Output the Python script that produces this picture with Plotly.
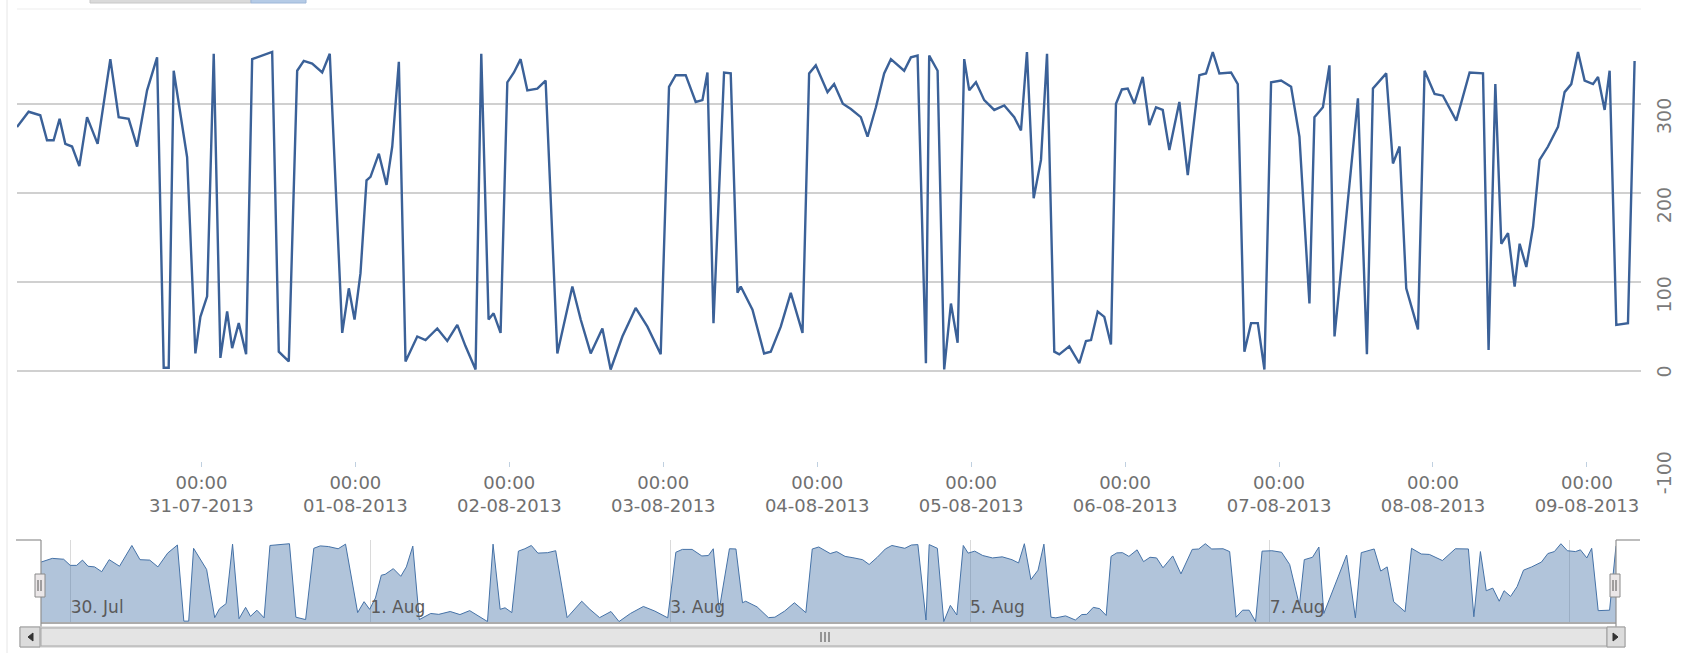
import pandas as pd
import plotly.graph_objects as go

# ---- data: hours since 2013-07-31 00:00 and the series values ----
hours = [
    -28.75, -26.94, -25.12, -24.07, -23.04, -22.11, -21.22, -20.17, -19.03, -17.83,
    -16.18, -14.2, -12.9, -11.34, -10.03, -8.47, -6.91, -5.88, -5.1, -4.32,
    -2.23, -0.94, -0.16, 0.89, 1.92, 2.96, 4.01, 4.79, 5.82, 6.97,
    7.91, 11.03, 12.06, 13.62, 14.93, 15.96, 17.27, 18.83, 20.01, 21.95,
    22.98, 23.87, 24.8, 25.74, 26.36, 27.66, 28.86, 29.75, 30.78, 31.82,
    33.65, 34.94, 36.77, 38.33, 39.89, 41.18, 42.74, 43.63, 44.77, 45.55,
    46.64, 47.69, 48.72, 49.76, 50.81, 52.37, 53.66, 55.49, 57.83, 59.13,
    60.69, 62.51, 63.8, 65.63, 67.7, 69.53, 71.6, 72.9, 73.94, 75.5,
    77.06, 78.11, 78.89, 79.83, 81.48, 82.52, 83.57, 84.08, 85.91, 87.72,
    88.76, 90.32, 91.88, 93.71, 94.74, 95.78, 97.61, 98.64, 100.0, 101.25,
    102.8, 103.85, 105.15, 106.44, 107.49, 109.56, 110.61, 111.65, 112.95, 113.46,
    114.77, 115.8, 116.85, 117.89, 118.92, 119.7, 120.75, 122.04, 123.6, 125.16,
    126.72, 127.77, 128.7, 129.75, 130.89, 131.83, 132.96, 133.74, 135.3, 136.86,
    137.9, 138.69, 139.73, 140.76, 141.8, 142.58, 143.5, 144.41, 145.44, 146.75,
    147.78, 148.82, 149.87, 150.9, 152.46, 153.77, 155.58, 156.62, 157.67, 158.7,
    160.52, 161.57, 162.6, 163.64, 164.69, 165.72, 166.76, 168.32, 169.88, 171.18,
    172.74, 173.52, 174.84, 175.86, 176.65, 180.3, 181.7, 182.64, 184.71, 185.76,
    186.79, 187.83, 189.66, 190.69, 192.25, 193.55, 195.63, 197.71, 199.8, 200.67,
    201.72, 202.65, 203.7, 204.73, 205.51, 206.55, 207.6, 208.62, 209.93, 211.49,
    212.52, 213.56, 214.61, 215.64, 216.95, 217.73, 218.76, 219.54, 220.58, 222.4,
    223.43,
]
values = [
    274, 291, 287, 259, 259, 283, 255, 252, 230, 285,
    255, 350, 285, 283, 252, 315, 352, 4, 4, 337,
    240, 20, 61, 84, 356, 15, 67, 26, 54, 19,
    350, 358, 22, 11, 337, 348, 345, 335, 356, 43,
    93, 58, 110, 214, 218, 244, 209, 252, 347, 11,
    39, 35, 48, 34, 52, 28, 2, 356, 58, 65,
    43, 324, 335, 350, 315, 317, 326, 20, 95, 58,
    20, 48, 2, 39, 71, 50, 19, 319, 332, 332,
    302, 304, 335, 54, 335, 334, 88, 95, 69, 20,
    22, 50, 88, 43, 334, 343, 313, 322, 300, 294,
    285, 263, 296, 334, 350, 337, 352, 354, 9, 354,
    337, 2, 76, 32, 350, 315, 324, 304, 293, 298,
    285, 270, 358, 194, 237, 356, 22, 19, 28, 9,
    34, 35, 67, 61, 30, 300, 316, 317, 300, 330,
    276, 296, 293, 248, 302, 220, 332, 334, 358, 334,
    335, 322, 22, 54, 54, 2, 324, 326, 319, 263,
    76, 285, 296, 343, 39, 306, 19, 317, 334, 233,
    252, 93, 47, 337, 311, 309, 281, 335, 334, 24,
    322, 143, 155, 95, 143, 117, 162, 237, 252, 274,
    313, 322, 358, 326, 322, 330, 293, 337, 52, 54,
    348,
]

main_tick_dates = ["2013-07-31", "2013-08-01", "2013-08-02", "2013-08-03", "2013-08-04",
                   "2013-08-05", "2013-08-06", "2013-08-07", "2013-08-08", "2013-08-09"]
main_tick_text = ["00:00<br>31-07-2013", "00:00<br>01-08-2013", "00:00<br>02-08-2013",
                  "00:00<br>03-08-2013", "00:00<br>04-08-2013", "00:00<br>05-08-2013",
                  "00:00<br>06-08-2013", "00:00<br>07-08-2013", "00:00<br>08-08-2013",
                  "00:00<br>09-08-2013"]
y_tick_vals = [-100, 0, 100, 200, 300, 400]
y_tick_text = ["-100", "\u2007\u20070", "100", "200", "300", ""]
nav_tick_dates = ["2013-07-30", "2013-08-01", "2013-08-03", "2013-08-05", "2013-08-07", "2013-08-09"]
nav_tick_text = ["30. Jul", "1. Aug", "3. Aug", "5. Aug", "7. Aug", "9. Aug"]

# ---- build ----
W, H = 1685, 653
base = pd.Timestamp("2013-07-31 00:00")
times = [base + pd.Timedelta(hours=h) for h in hours]


def px(x):
    return x / W


def py(y):
    return 1 - y / H


LINE = "#3B6198"
FONT = "DejaVu Sans"

fig = go.Figure()
fig.add_trace(go.Scatter(x=times, y=values, mode="lines",
                         line=dict(color=LINE, width=2.4), xaxis="x", yaxis="y",
                         showlegend=False, hoverinfo="x+y"))
fig.add_trace(go.Scatter(x=times, y=values, mode="lines", fill="tozeroy",
                         fillcolor="rgba(69,114,167,0.42)",
                         line=dict(color="#4572A7", width=1), xaxis="x2", yaxis="y2",
                         showlegend=False, hoverinfo="skip"))

shapes = []


def line(x0, y0, x1, y1, color, width=1):
    shapes.append(dict(type="line", xref="paper", yref="paper",
                       x0=px(x0), y0=py(y0), x1=px(x1), y1=py(y1),
                       line=dict(color=color, width=width), layer="above"))


def rect(x0, y0, x1, y1, fill, color, width=1):
    shapes.append(dict(type="rect", xref="paper", yref="paper",
                       x0=px(x0), y0=py(y0), x1=px(x1), y1=py(y1),
                       fillcolor=fill, line=dict(color=color, width=width), layer="above"))


def path(pts, fill):
    d = "M " + " L ".join(f"{px(a)},{py(b)}" for a, b in pts) + " Z"
    shapes.append(dict(type="path", xref="paper", yref="paper", path=d,
                       fillcolor=fill, line=dict(color=fill, width=1), layer="above"))


# page border and cut-off range selector buttons at the very top
line(7, 0, 7, 653, "#E6E6E6")
rect(90, -2, 251, 3, "#DADADA", "#C8C8C8")
rect(251, -2, 306, 3, "#B5CBE6", "#9DB6D8")
line(17, 9, 1641, 9, "#EDEDED")

# navigator outline
OUT = "#909090"
line(16, 540, 41, 540, OUT, 1.2)
line(41, 540, 41, 627, OUT, 1.2)
line(41, 623, 1616, 623, OUT, 1.5)
line(1616, 540, 1616, 627, OUT, 1.2)
line(1616, 540, 1640, 540, OUT, 1.2)

# scrollbar
rect(20, 627, 1625, 647, "#EFEFEF", "#C8C8C8")
rect(41, 628, 1607, 646, "#E4E4E4", "#A8A8A8")
rect(20, 627, 40, 647, "#DCDCDC", "#999999")
rect(1607, 627, 1625, 647, "#DCDCDC", "#999999")
path([(33, 633), (33, 641), (28, 637)], "#333333")
path([(1613, 633), (1613, 641), (1618, 637)], "#333333")
for gx in (821, 825, 829):
    line(gx, 632, gx, 642, "#444444", 1)

# navigator handles
for hx in (40, 1615):
    rect(hx - 5, 574, hx + 5, 597, "#EBE7E8", "#8A8A8A")
    line(hx - 2, 580, hx - 2, 591, "#555555")
    line(hx + 1, 580, hx + 1, 591, "#555555")

fig.update_layout(
    template="none",
    width=W, height=H, autosize=False,
    margin=dict(l=0, r=0, t=0, b=0, pad=0),
    paper_bgcolor="white", plot_bgcolor="white",
    font=dict(family=FONT, color="#6E6E6E"),
    shapes=shapes,
    xaxis=dict(
        domain=[px(17), px(1641)], anchor="y", type="date", automargin=False,
        range=[times[0], times[-1] + pd.Timedelta(hours=1)],
        tickmode="array", tickvals=main_tick_dates, ticktext=main_tick_text,
        ticks="outside", ticklen=5, tickcolor="#C0D0E0", tickwidth=1,
        showgrid=False, zeroline=False, showline=False,
        tickfont=dict(size=18, color="#707070", family=FONT),
        fixedrange=True,
    ),
    yaxis=dict(
        domain=[py(461), py(14)], anchor="x", side="right", automargin=False,
        range=[-100.6, 400.6], tickmode="array", tickvals=y_tick_vals, ticktext=y_tick_text,
        tickangle=-90, ticklabelshift=15, ticklabelstandoff=10,
        showgrid=True, gridcolor="#D0D0D0", gridwidth=1.5,
        zeroline=False, showline=False, ticks="",
        tickfont=dict(size=19, color="#7A7A7A", family=FONT),
        fixedrange=True,
    ),
    xaxis2=dict(
        domain=[px(41), px(1616)], anchor="y2", type="date", automargin=False,
        range=[times[0], times[-1]],
        tickmode="array", tickvals=nav_tick_dates, ticktext=nav_tick_text,
        ticklabelposition="inside right", ticks="",
        showgrid=True, gridcolor="#DADADA", gridwidth=1,
        zeroline=False, showline=False,
        tickfont=dict(size=17, color="#5A5A5A", family=FONT),
        fixedrange=True,
    ),
    yaxis2=dict(
        domain=[py(622), py(540)], anchor="x2", range=[0, 375], automargin=False,
        visible=False, showgrid=False, zeroline=False, fixedrange=True,
    ),
)

fig.write_html("out.html", config={"displayModeBar": False},
               post_script="document.body.style.margin='0';document.body.style.overflow='hidden';")
